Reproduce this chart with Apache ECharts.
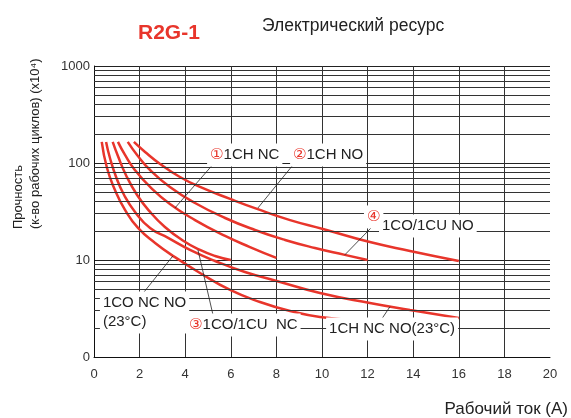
<!DOCTYPE html>
<html>
<head>
<meta charset="utf-8">
<script src="https://cdn.jsdelivr.net/npm/echarts@6/dist/echarts.min.js"></script>
<style>
  html, body { margin: 0; padding: 0; background: #fff; }
  #main { width: 571px; height: 418px; }
</style>
</head>
<body>
<div id="main"></div>
<script>
// x: current (A), v: life (x10^4 operations)
var xTicks = [0, 2, 4, 6, 8, 10, 12, 14, 16, 18, 20]
var yTicks = [1, 10, 100, 1000]

// ③ 1CO/1CU NC
var coNcX = [0.82, 1.05, 1.40, 1.89, 2.46, 3.11, 3.86, 4.65, 5.31, 6]
var coNcV = [165, 118, 75.2, 46.8, 31.3, 21.9, 16.1, 12.7, 11.0, 10]
// ① 1CH NC
var chNcX = [1.05, 1.36, 1.79, 2.46, 3.33, 4.43, 5.75, 6.84, 8]
var chNcV = [165, 121, 84.7, 56.6, 37.8, 25.8, 17.7, 13.6, 10.5]
// ④ 1CO/1CU NO
var coNoX = [1.48, 1.89, 2.46, 3.33, 4.43, 5.75, 7.06, 8.38, 9.69, 11.0, 12]
var coNoV = [165, 121, 84.7, 56.6, 38.7, 27.1, 20.4, 16.1, 13.3, 11.3, 10]
// ② 1CH NO
var chNoX = [1.75, 2.24, 2.90, 3.77, 4.65, 5.97, 7.15, 8.6, 10.04, 12.1, 13.86, 16]
var chNoV = [165, 130, 97.7, 71.7, 56.6, 42.6, 33.6, 25.8, 20.9, 15.3, 12.4, 9.77]
// 1CO NC NO (23°C)
var co23X = [0.34, 0.57, 0.92, 1.36, 1.93, 2.68, 3.55, 4.65, 5.97, 7.28, 8.6, 9.91, 12]
var co23V = [165, 88.8, 52.7, 32.8, 21.4, 15.0, 10.7, 7.35, 4.91, 3.69, 2.98, 2.59, 2.35]
// 1CH NC NO (23°C)
var ch23X = [0.53, 0.70, 0.97, 1.32, 1.80, 2.46, 3.25, 4.21, 5.31, 6.62, 8.01, 9.91, 12.1, 13.86, 16]
var ch23V = [165, 112.6, 71.7, 46.8, 31.3, 21.4, 16.9, 12.7, 9.77, 7.52, 6.08, 4.57, 3.60, 3.05, 2.52]

var RED = '#e8352b'
var FONT = 'Liberation Sans, Arial, sans-serif'

function pairs(xs, vs) {
  return xs.map(function (x, i) { return [x, vs[i]] })
}

// minor log grid lines 2..9 in each decade
var minorLines = []
for (var d = 1; d < 1000; d *= 10) {
  for (var k = 2; k <= 9; k++) minorLines.push({ yAxis: k * d })
}

function curve(name, xs, vs) {
  return {
    name: name,
    type: 'line',
    data: pairs(xs, vs),
    smooth: 0.5,
    symbol: 'none',
    z: 3,
    lineStyle: { color: RED, width: 2.5 }
  }
}

var myChart = echarts.init(document.getElementById('main'))
var option = {
  animation: false,
  backgroundColor: '#fff',
  title: [
    { text: 'R2G-1', left: 133, top: 18,
      textStyle: { color: RED, fontSize: 21, fontWeight: 'bold', fontFamily: FONT } },
    { text: 'Электрический ресурс', left: 257, top: 12,
      textStyle: { color: '#222', fontSize: 17.5, fontWeight: 'normal', fontFamily: FONT } }
  ],
  grid: { left: 94, right: 21, top: 66, bottom: 61 },
  xAxis: {
    type: 'value', min: 0, max: 20, interval: 2,
    axisLine: { lineStyle: { color: '#111', width: 1 } },
    axisTick: { show: false },
    axisLabel: { color: '#333', fontSize: 13, margin: 11, fontFamily: FONT },
    splitLine: { show: true, showMaxLine: false, lineStyle: { color: '#333', width: 1 } }
  },
  yAxis: {
    type: 'log', logBase: 10, min: 1, max: 1000,
    axisLine: { show: true, lineStyle: { color: '#111', width: 1 } },
    axisTick: { show: false },
    axisLabel: {
      color: '#333', fontSize: 13, margin: 4, fontFamily: FONT,
      formatter: function (v) { return v === 1 ? '0' : String(v) }
    },
    splitLine: { show: true, lineStyle: { color: '#222', width: 1 } }
  },
  series: [
    {
      type: 'line', data: [], z: 1,
      markLine: {
        silent: true, symbol: 'none', animation: false,
        label: { show: false },
        lineStyle: { color: '#333', width: 1, type: 'solid' },
        data: minorLines
      }
    },
    curve('1CO NC NO (23°C)', co23X, co23V),
    curve('1CH NC NO (23°C)', ch23X, ch23V),
    curve('③ 1CO/1CU NC', coNcX, coNcV),
    curve('① 1CH NC', chNcX, chNcV),
    curve('④ 1CO/1CU NO', coNoX, coNoV),
    curve('② 1CH NO', chNoX, chNoV)
  ]
}
myChart.setOption(option)

// annotations placed in data coordinates
var labels = [
  { at: [4.96, 121], text: '{r|①}{t|1CH NC}' },
  { at: [8.6, 121], text: '{r|②}{t|1CH NO}' },
  { at: [12.5, 22.4], text: '{t|1CO/1CU NO}' },
  { at: [11.84, 27.8], text: '{r|④}' },
  { at: [0.26, 2.88], text: '{t|1CO NC NO}\n{t|(23°C)}' },
  { at: [4.04, 2.14], text: '{r|③}{t|1CO/1CU  NC}' },
  { at: [10.18, 1.94], text: '{t|1CH NC NO(23°C)}' }
]
var leaders = [
  [[5.38, 107], [3.55, 34.4]],
  [[8.9, 107], [7.19, 34.4]],
  [[12.19, 21.9], [11.0, 11.3]],
  [[2.09, 4.36], [3.46, 11.0]],
  [[5.22, 2.71], [4.56, 12.7]],
  [[12.54, 2.31], [12.98, 3.3]]
]

var graphics = []
leaders.forEach(function (l) {
  var a = myChart.convertToPixel({ gridIndex: 0 }, l[0])
  var b = myChart.convertToPixel({ gridIndex: 0 }, l[1])
  graphics.push({
    type: 'line', z: 10, silent: true,
    shape: { x1: a[0], y1: a[1], x2: b[0], y2: b[1] },
    style: { stroke: '#222', lineWidth: 0.8 }
  })
})
labels.forEach(function (lb) {
  var p = myChart.convertToPixel({ gridIndex: 0 }, lb.at)
  graphics.push({
    type: 'text', z: 11, silent: true, x: p[0], y: p[1],
    style: {
      text: lb.text, align: 'left', verticalAlign: 'middle',
      backgroundColor: '#fff', padding: [2, 3],
      lineHeight: 19,
      rich: {
        r: { fill: RED, fontSize: 15, fontFamily: 'DejaVu Sans, sans-serif', lineHeight: 19 },
        t: { fill: '#222', fontSize: 15, fontFamily: FONT, lineHeight: 19 }
      }
    }
  })
})
graphics.push({
  type: 'text', z: 11, silent: true, x: 10, y: 229, rotation: Math.PI / 2,
  style: {
    text: 'Прочность\n(к-во рабочих циклов) (x10⁴)',
    align: 'left', verticalAlign: 'top', lineHeight: 17,
    fill: '#222', fontSize: 13, fontFamily: FONT
  }
})
graphics.push({
  type: 'text', z: 11, silent: true, x: 568, y: 409,
  style: {
    text: 'Рабочий ток (A)', align: 'right', verticalAlign: 'middle',
    fill: '#222', fontSize: 17, fontFamily: FONT
  }
})
myChart.setOption({ graphic: graphics })
</script>
</body>
</html>
